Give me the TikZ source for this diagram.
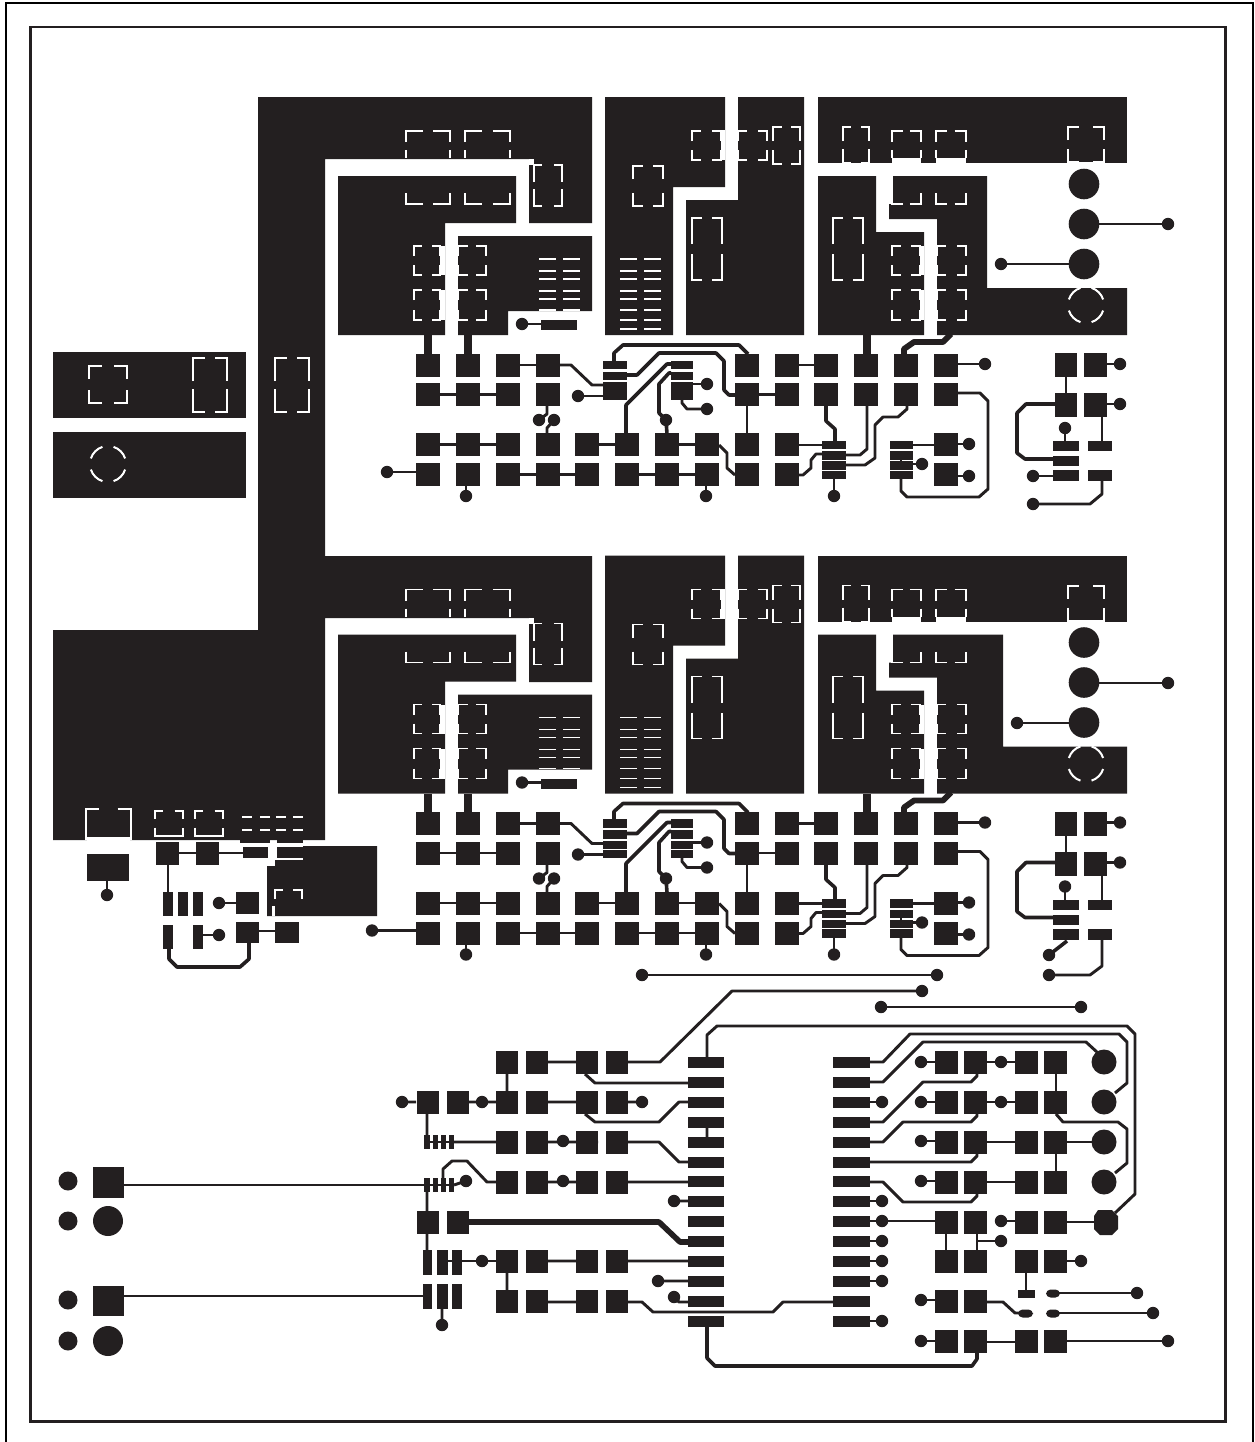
\documentclass[tikz,border=0pt]{standalone}
\definecolor{cu}{HTML}{231F20}
\tikzset{
  tr/.style={draw=cu,line width=2.2pt,line join=round,line cap=butt},
  trb/.style={tr,line width=2.7pt},
  wl/.style={draw=white,line width=0.95pt},
  wt/.style={draw=white,line width=1.5pt}
}
\newcommand\Rc[4]{\fill[cu] (#1,#2) rectangle (#3,#4);}
\newcommand\Wr[4]{\fill[white] (#1,#2) rectangle (#3,#4);}
\newcommand\Pd[2]{\fill[cu] (#1-12,#2-11.5) rectangle (#1+12,#2+11.5);}
\newcommand\Cc[3]{\fill[cu] (#1,#2) circle[radius=#3];}
\newcommand\Vv[2]{\Cc{#1}{#2}{6.2}}
% white corner brackets: x1 y1 x2 y2 hlen vlen
\newcommand\Bk[7][wl]{%
  \draw[#1] ({#2},{#3+#7})--({#2},{#3})--({#2+#6},{#3});
  \draw[#1] ({#4-#6},{#3})--({#4},{#3})--({#4},{#3+#7});
  \draw[#1] ({#2},{#5-#7})--({#2},{#5})--({#2+#6},{#5});
  \draw[#1] ({#4-#6},{#5})--({#4},{#5})--({#4},{#5-#7});}
% pad split by the white channel
\newcommand\Bs[2]{%
  \Bk{#1}{131}{#2}{204}{(#2-#1)*0.38}{11}
  \draw[wl] (#1,150)--(#1,158) (#2,150)--(#2,158);}
\newcommand\Ring[3]{\foreach \a in {18,108,198,288}{\draw[wt] ({#1+#3*cos(\a)},{#2+#3*sin(\a)}) arc[start angle=\a,end angle=\a+54,radius=#3];}}
\newcommand\Fine[3]{%
  \foreach \y in {#3}{\draw[wl] (#1,\y)--(#1+17,\y) (#2,\y)--(#2+17,\y);}}
% one repeated block: #1 right edge of the inner copper, #2 x of the left test point
\newcommand\Block[2]{%
  % copper pours
  \fill[cu] (338,176)--(516,176)--(516,223)--(445,223)--(445,335)--(338,335)--cycle;
  \fill[cu] (458,236)--(592,236)--(592,311)--(508,311)--(508,335)--(458,335)--cycle;
  \fill[cu] (605,97)--(725,97)--(725,187)--(673,187)--(673,335)--(605,335)--cycle;
  \fill[cu] (686,200)--(738,200)--(738,97)--(804,97)--(804,335)--(686,335)--cycle;
  \fill[cu] (818,97)--(1127,97)--(1127,163)--(818,163)--cycle;
  \fill[cu] (818,176)--(876,176)--(876,232)--(924,232)--(924,335)--(818,335)--cycle;
  \fill[cu] (893,176)--(#1,176)--(#1,288)--(1127,288)--(1127,335)--(937,335)--(937,219)--(889,219)--(889,204)--(893,204)--cycle;
  % channel details
  \Wr{440}{246}{445}{275}\Wr{440}{290}{445}{320}
  \Wr{920}{246}{924}{275}\Wr{920}{290}{924}{320}
  \Wr{721}{130}{725}{160}
  \Wr{529}{159}{534}{165}
  \Wr{892}{158}{921}{163}\Wr{936}{158}{966}{163}
  \Wr{1069}{161.5}{1103}{163}
  % thermal brackets
  \Bs{406}{450}\Bs{465}{510}\Bs{892}{921}\Bs{936}{966}
  \Bk{534}{165}{562}{206}{8}{17}
  \Bk{414}{246}{440}{275}{8}{10}\Bk{414}{290}{440}{320}{8}{10}
  \Bk{458}{246}{486}{275}{10}{10}\Bk{458}{290}{486}{320}{10}{10}
  \Fine{539}{563}{259,271,279,291,299,310}
  \Fine{620}{644}{259,271,279,291,299,310,320,329}
  \Bk{692}{131}{721}{160}{9}{10}\Bk{738}{131}{767}{160}{9}{10}
  \Bk{773}{127}{800}{164}{9}{14}
  \Bk{633}{166}{663}{206}{10}{13}
  \Bk{692}{218}{722}{280}{10}{26}
  \Bk{843}{127}{869}{163}{8}{14}
  \Bk{833}{218}{863}{280}{10}{26}
  \Bk{892}{246}{920}{275}{9}{10}\Bk{937}{246}{966}{275}{9}{10}
  \Bk{892}{290}{920}{320}{9}{10}\Bk{937}{290}{966}{320}{9}{10}
  \Bk[wt]{1068}{127}{1104}{162}{11}{13}
  \Ring{1086}{305}{18}
  % through-holes at the right
  \Cc{1084}{184}{15.3}\Cc{1084}{224}{15.3}\Cc{1084}{264}{15.3}
  % small component in the pour cut-out
  \Rc{541}{320}{577}{330}\Vv{522}{324}\draw[tr] (522,324)--(541,324);
  % pad rows
  \foreach \x in {427.5,468,507.5,547.5,747,787,826,866,906,946}{\Pd{\x}{365}\Pd{\x}{394.5}}
  \foreach \x in {427.5,468,507.5,547.5,587,627,667,707,747,787}{\Pd{\x}{444.5}\Pd{\x}{474.5}}
  \Pd{946}{444.5}\Pd{946}{474.5}
  % SOIC parts
  \foreach \y in {365,376,386.5,395.5}{\Rc{603}{\y-4.2}{627}{\y+4.2}\Rc{671}{\y-4.2}{693}{\y+4.2}}
  \foreach \y in {445,455.5,465.5,475}{\Rc{822}{\y-4.2}{846}{\y+4.2}\Rc{890}{\y-4.2}{913}{\y+4.2}}
  % stubs into the pours
  \draw[tr,line width=5.4pt] (428,335)--(428,354) (468,335)--(468,354) (867,335)--(867,354);
  \draw[tr,line width=4.4pt] (904,354)--(904,349)--(914,342)--(943,342)--(951,334);
  % straight links
  \draw[tr] (440,394.5)--(496,394.5) (440,444.5)--(496,444.5) (519,365)--(536,365)
    (599,444.5)--(615,444.5) (679,444.5)--(695,444.5) (519,474.5)--(575,474.5) (639,474.5)--(695,474.5)
    (759,394.5)--(775,394.5) (799,365)--(814,365) (747,406)--(747,433)
    (958,364)--(985,364) (799,445)--(822,445) (913,445)--(934,445) (958,444)--(969,444) (958,476)--(969,476)
    (913,464)--(922,464) (901,459)--(901,462)
    (#2,472)--(416,472) (466,486)--(466,496) (706,486)--(706,496) (834,479)--(834,496);
  % routed traces
  \draw[tr] (559,365)--(571,365)--(592,385)--(603,385);
  \draw[tr] (578,396)--(603,396);
  \draw[trb] (614,361)--(614,353)--(623,345)--(739,345)--(748,354);
  \draw[trb] (627,375)--(637,375)--(659,353)--(716,353)--(724,361)--(724,390)--(729,395)--(735,395);
  \draw[trb] (671,364)--(667,364)--(626,405)--(626,434);
  \draw[trb] (671,373)--(669,373)--(659,384)--(659,413)--(666,420)--(667,434);
  \draw[tr] (693,384)--(707,384);
  \draw[tr] (682,399)--(682,403)--(687,409)--(707,409);
  \draw[tr] (547,406)--(547,414)--(539,420);
  \draw[tr] (547,434)--(547,428)--(554,420);
  \draw[tr] (719,445)--(727,453)--(727,468)--(735,475);
  \draw[tr] (958,393)--(980,393)--(988,401)--(988,489)--(979,497)--(907,497)--(901,491)--(901,479);
  \draw[trb] (826,406)--(826,421)--(835,429)--(835,441);
  \draw[tr] (867,406)--(867,449)--(860,455)--(846,455);
  \draw[tr] (907,406)--(907,409)--(898,417)--(883,417)--(875,425)--(875,458)--(865,465)--(846,465);
  \draw[tr] (822,454)--(816,454)--(811,460)--(811,468)--(803,475)--(799,475);
  % test points
  \foreach \p/\q in {578/396,707/384,707/409,666/420,539/420,554/420,985/364,922/464,969/444,969/476,834/496}{\Vv{\p}{\q}}
  \Vv{#2}{472}\Vv{466}{496}\Vv{706}{496}
  % right group
  \foreach \y in {365,405}{\fill[cu] (1055,\y-12)rectangle(1077,\y+12);\fill[cu] (1084,\y-12)rectangle(1107,\y+12);\draw[tr] (1107,\y-1)--(1120,\y-1);\Vv{1120}{\y-1}}
  \draw[tr] (1066,377)--(1066,393);
  \Rc{1053}{441}{1079}{451}\Rc{1053}{456}{1079}{466}\Rc{1053}{470}{1079}{481}
  \Rc{1088}{441}{1112}{451}\Rc{1088}{470}{1112}{481}
  \Vv{1065}{428}\draw[tr] (1065,428)--(1065,441);
  \draw[tr] (1102,417)--(1102,441);
  \draw[trb] (1055,404)--(1026,404)--(1017,413)--(1017,453)--(1025,459)--(1055,459);
}
\begin{document}
\begin{tikzpicture}[x=0.75pt,y=-0.75pt]
\useasboundingbox (0,0) rectangle (1254,1442);
% frames
\draw[black,line width=1.7pt] (6,1443)--(6,3.2)--(1253,3.2)--(1253,1443);
\draw[cu,line width=2pt] (30.2,27) rectangle (1225.5,1421.5);
% main ground pour
\fill[cu] (258,97)--(592,97)--(592,223)--(529,223)--(529,159)--(325,159)--(325,556)--(592,556)--(592,682)--(529,682)--(529,618)--(325,618)--(325,840)--(53,840)--(53,630)--(258,630)--cycle;
% separate left pours
\Rc{53}{352}{246}{418}\Rc{53}{432}{246}{498}
\Bk[wt]{89}{366}{127}{403}{13}{13}
\Bk{193}{358}{227}{412}{12}{23}
\Bk{275}{358}{309}{412}{12}{23}
\Ring{108}{464}{18}
% repeated blocks
\Block{987}{387}
\begin{scope}[shift={(0,458.5)}]
\Block{1003}{372}
\end{scope}
% block-specific right traces
\draw[tr] (1084,224)--(1168,224);\Vv{1168}{224}
\draw[tr] (1084,264)--(1001,264);\Vv{1001}{264}
\draw[tr] (1053,476)--(1033,476);\Vv{1033}{476}
\draw[tr] (1033,504)--(1090,504)--(1102,494)--(1102,481);\Vv{1033}{504}
\draw[tr] (1084,683)--(1168,683);\Vv{1168}{683}
\draw[tr] (1084,723)--(1017,723);\Vv{1017}{723}
\draw[trb] (1067,941)--(1049,955);\Vv{1049}{955}
\draw[tr] (1049,975)--(1090,975)--(1102,966)--(1102,940);\Vv{1049}{975}
\draw[tr] (642,975)--(937,975);\Vv{642}{975}\Vv{937}{975}
\draw[tr] (881,1007)--(1081,1007);\Vv{881}{1007}\Vv{1081}{1007}
\draw[tr] (922,991)--(732,991)--(660,1062)--(627,1062);\Vv{922}{991}
% power input corner
\Wr{87}{837}{130}{841}
\Bk[wt]{85.5}{808.5}{130.5}{838}{13}{9}
\draw[wt] (85.5,808)--(85.5,840) (130.5,808)--(130.5,840);
\Bk[wt]{154.5}{810.5}{182.5}{835.5}{8}{8}\draw[wt] (154.5,835.5)--(182.5,835.5);
\Bk[wt]{194.5}{810.5}{222.5}{835.5}{8}{8}\draw[wt] (194.5,835.5)--(222.5,835.5);
\foreach \x in {242,260,276,293}{\draw[wl] (\x,817)--(\x+10,817);\draw[wt] (\x,830)--(\x+10,830);}
\Rc{240}{840}{270}{843}\Rc{277}{840}{303}{843}
\Rc{87}{854}{129}{881}\draw[tr] (107,881)--(107,895);\Vv{107}{895}
\Rc{156}{842}{179}{865}\Rc{196}{842}{219}{865}\Rc{243}{847}{268}{858}
\draw[tr] (179,853)--(243,853);
\fill[cu] (303,846)--(377,846)--(377,916)--(267,916)--(267,866)--(275,866)--(275,860)--(303,860)--cycle;
\Rc{277}{847}{303}{858}
\draw[wl] (277,859.5)--(284,859.5) (293,859.5)--(303,859.5);
\Wr{272}{906}{274.5}{916}
\draw[wl] (275,899)--(275,890)--(283,890) (293,890)--(302,890)--(302,899);
\draw[tr] (168,865)--(168,892);
\Rc{163}{892}{173}{916}\Rc{178}{892}{188}{916}\Rc{193}{892}{203}{916}
\Rc{163}{925}{173}{949}\Rc{193}{925}{203}{949}
\Rc{236}{892}{259}{914}\Rc{236}{922}{259}{943}\Rc{275}{922}{299}{943}
\draw[tr] (259,931)--(275,931) (219,903)--(236,903) (203,935)--(219,935);
\Vv{219}{903}\Vv{219}{935}
\draw[trb] (169,949)--(169,959)--(177,967)--(240,967)--(249,959)--(249,943);
% lower connectors at the left edge
\Rc{93}{1167}{124}{1198}\Cc{108}{1221}{15}\Cc{68}{1181}{9.5}\Cc{68}{1221}{9.5}
\Rc{93}{1286}{124}{1316}\Cc{108}{1341}{15}\Cc{68}{1300}{9.5}\Cc{68}{1341}{9.5}
\draw[tr] (124,1185)--(424,1185) (124,1296)--(423,1296);
% lower-left pad columns
\foreach \x in {507,537,587,617}{\foreach \y in {1062.5,1102.5,1142.5,1182.5,1261.5,1301}{\fill[cu] (\x-11,\y-11.5) rectangle (\x+11,\y+11.5);}}
\foreach \x in {427.5,457.5}{\foreach \y in {1102.5,1222.5}{\fill[cu] (\x-11,\y-11.5) rectangle (\x+11,\y+11.5);}}
% small chips
\foreach \y in {1142,1185}{\Rc{424}{\y-7}{430}{\y+7}\Rc{432.5}{\y-7}{438}{\y+7}\Rc{440.5}{\y-7}{446}{\y+7}\Rc{448.5}{\y-7}{454}{\y+7}\draw[tr] (424,\y)--(454,\y);}
\foreach \y in {1262.5,1296}{\Rc{423}{\y-12.5}{432}{\y+12.5}\Rc{437}{\y-12.5}{448}{\y+12.5}\Rc{452}{\y-12.5}{462}{\y+12.5}}
\draw[tr] (437,1261)--(496,1261);
% IC pins
\foreach \i in {0,...,13}{\Rc{688}{1062.5+19.9*\i-5.5}{724}{1062.5+19.9*\i+5.5}\Rc{833}{1062.5+19.9*\i-5.5}{870}{1062.5+19.9*\i+5.5}}
% IC left traces
\draw[tr] (507,1074)--(507,1091) (507,1273)--(507,1290)
  (402,1102)--(416,1102) (468,1102)--(496,1102) (548,1102)--(576,1102) (627,1102)--(642,1102)
  (548,1062)--(576,1062) (598,1142)--(527,1142) (454,1142)--(496,1142)
  (548,1182)--(576,1182) (548,1261)--(576,1261) (548,1302)--(576,1302)
  (427,1114)--(427,1135) (427,1192)--(427,1211) (427,1234)--(427,1250)
  (627,1261)--(688,1261) (627,1182)--(688,1182)
  (454,1185)--(466,1181) (442,1308)--(442,1325)
  (707,1128)--(707,1137) (674,1201)--(688,1201) (658,1281)--(688,1281);
\draw[tr] (585,1074)--(595,1083)--(688,1083);
\draw[tr] (585,1114)--(595,1122)--(659,1122)--(679,1102)--(688,1102);
\draw[tr] (627,1142)--(659,1142)--(679,1162)--(688,1162);
\draw[tr] (443,1178)--(443,1169)--(452,1161)--(467,1161)--(487,1182)--(496,1182);
\draw[tr,line width=4.2pt] (468,1222)--(659,1222)--(680,1242)--(688,1242);
\draw[tr] (627,1302)--(642,1302)--(653,1312)--(773,1312)--(783,1302)--(833,1302);
\draw[tr] (674,1297)--(679,1302)--(688,1302);
\draw[tr] (707,1057)--(707,1035)--(717,1026)--(1127,1026)--(1135,1034)--(1135,1194)--(1115,1213);
\draw[trb] (707,1327)--(707,1358)--(715,1366)--(972,1366)--(977,1359)--(977,1353);
\foreach \p/\q in {402/1102,482/1102,642/1102,563/1141,563/1181,466/1181,482/1261,674/1201,658/1281,674/1297,442/1325}{\Vv{\p}{\q}}
% right side pads
\foreach \x in {946.5,975.5,1026,1055.5}{\foreach \y in {1062.5,1102.5,1142.5,1182.5,1222.5,1261.5,1341}{\fill[cu] (\x-11.5,\y-11.5) rectangle (\x+11.5,\y+11.5);}}
\foreach \x in {946.5,975.5}{\fill[cu] (\x-11.5,1290) rectangle (\x+11.5,1313);}
\foreach \p in {1062,1102,1142,1182}{\Cc{1104}{\p}{12.5}}
\fill[cu] (1098,1210)--(1112,1210)--(1118,1216)--(1118,1229)--(1112,1235)--(1100,1235)--(1094,1229)--(1094,1216)--cycle;
\draw[tr] (870,1062)--(883,1062)--(910,1034)--(1119,1034)--(1127,1042)--(1127,1083)--(1115,1093);
\draw[tr] (870,1082)--(883,1082)--(923,1042)--(1086,1042)--(1098,1053);
\draw[tr] (870,1122)--(883,1122)--(923,1082)--(971,1082)--(977,1076)--(977,1074);
\draw[tr] (870,1142)--(883,1142)--(903,1122)--(971,1122)--(977,1116)--(977,1114);
\draw[tr] (870,1162)--(971,1162)--(977,1156)--(977,1154);
\draw[tr] (870,1182)--(883,1182)--(903,1202)--(971,1202)--(977,1196)--(977,1194);
\draw[tr] (1056,1114)--(1063,1122)--(1118,1122)--(1127,1129)--(1127,1163)--(1115,1173);
\draw[tr] (870,1102)--(882,1102) (870,1201)--(882,1201) (870,1221)--(935,1221) (870,1241)--(882,1241) (870,1261)--(882,1261) (870,1281)--(882,1281) (870,1321)--(882,1321)
  (921,1062)--(935,1062) (921,1102)--(935,1102) (921,1141)--(935,1141) (921,1181)--(935,1181) (921,1300)--(935,1300) (921,1341)--(935,1341)
  (987,1062)--(1015,1062) (987,1102)--(1015,1102) (987,1142)--(1015,1142) (987,1182)--(1015,1182)
  (1001,1221)--(1015,1221) (1067,1142)--(1094,1142) (1067,1222)--(1095,1222)
  (1056,1074)--(1056,1091) (1056,1154)--(1056,1171)
  (946,1234)--(946,1250) (977,1234)--(977,1250) (977,1241)--(1001,1241)
  (1026,1273)--(1026,1290) (1067,1261)--(1081,1261)
  (987,1342)--(1015,1342) (1067,1341)--(1168,1341);
\draw[tr] (987,1302)--(1003,1302)--(1015,1313)--(1023,1313);
\Rc{1018}{1290}{1035}{1298}
\fill[cu,rounded corners=3.4pt] (1018,1309.5) rectangle (1033,1317.5);
\fill[cu,rounded corners=3.4pt] (1046,1289.5) rectangle (1060,1297.5);
\fill[cu,rounded corners=3.4pt] (1046,1309.5) rectangle (1060,1317.5);
\draw[tr] (1053,1293)--(1137,1293) (1053,1313)--(1153,1313);
\foreach \p/\q in {882/1102,882/1201,882/1221,882/1241,882/1261,882/1281,882/1321,921/1062,921/1102,921/1141,921/1181,921/1300,921/1341,1001/1062,1001/1102,1001/1221,1001/1241,1081/1261,1137/1293,1153/1313,1168/1341}{\Vv{\p}{\q}}
\end{tikzpicture}
\end{document}
